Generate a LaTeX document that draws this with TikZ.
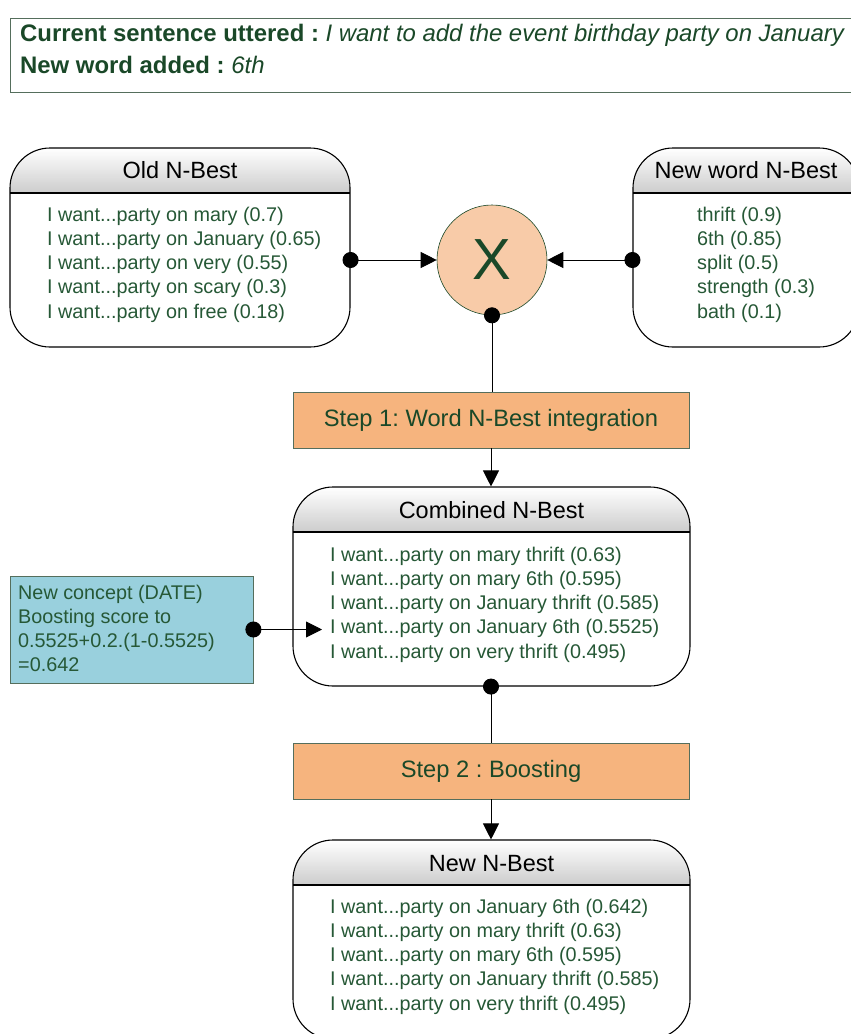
\documentclass[tikz,border=0pt]{standalone}
\usepackage{fontspec}
\setmainfont{Liberation Sans}
\usetikzlibrary{arrows.meta}
\frenchspacing
\newcommand\mydots{...}
\definecolor{tgreen}{RGB}{38,88,54}
\definecolor{dgreen}{RGB}{26,72,40}
\definecolor{stepfill}{RGB}{246,180,126}
\definecolor{peach}{RGB}{248,203,168}
\definecolor{cyanfill}{RGB}{153,208,221}
\definecolor{bordergreen}{RGB}{85,110,92}
\definecolor{hdrgray}{RGB}{205,205,205}
\tikzset{
  nbest/.style={draw=black, line width=1.1pt, rounded corners=40pt, inner sep=0pt,
    minimum height=199pt,
    path picture={
      \foreach \k in {0,...,44}{
        \pgfmathtruncatemacro\pc{100*\k/44}
        \pgfmathsetmacro\kk{\k+1.3}
        \fill[sharp corners, hdrgray!\pc!white] ([yshift=-\k pt]path picture bounding box.north west)
          rectangle ([yshift=-\kk pt]path picture bounding box.north east);
      }
      \draw[sharp corners, line width=1.1pt] ([yshift=-45pt]path picture bounding box.north west) -- ([yshift=-45pt]path picture bounding box.north east);
    }},
  boxtitle/.style={font=\fontsize{23.5}{28}\selectfont, text=black, anchor=base, inner sep=0pt},
  item/.style={font=\fontsize{19.8}{24}\selectfont, text=tgreen, anchor=base west, inner sep=0pt},
  stepbox/.style={draw=bordergreen, fill=stepfill, line width=0.8pt, minimum width=396pt,
    minimum height=56pt, inner sep=0pt, font=\fontsize{23.7}{28}\selectfont, text=dgreen},
  conn/.style={line width=0.9pt, draw=black},
  dotstart/.style={shorten <=-8pt},
}
\begin{document}
\begin{tikzpicture}[x=1pt, y=-1pt,
  >={Triangle[length=16pt,width=16pt]}]
\useasboundingbox (0,0) rectangle (851,1034);

% top info box
\node[draw=bordergreen, line width=0.8pt, anchor=north west, minimum width=900pt,
  minimum height=74pt, inner sep=0pt] (info) at (10,18) {};
\node[anchor=base west, inner sep=0pt, text=dgreen, font=\fontsize{23.9}{28}\selectfont]
  (info1) at (20,41) {\textbf{Current sentence uttered :} \textit{I want to add the event birthday party on January}};
\node[anchor=base west, inner sep=0pt, text=dgreen, font=\fontsize{23.9}{28}\selectfont]
  (info2) at (20,73) {\textbf{New word added :} \textit{6th}};

% Old N-Best
\node[nbest, minimum width=340pt] (old) at (180,247.5) {};
\node[boxtitle] (oldt) at (180,178) {Old N-Best};
\foreach \t [count=\i] in {{I want\mydots{}party on mary (0.7)}, {I want\mydots{}party on January (0.65)},
  {I want\mydots{}party on very (0.55)}, {I want\mydots{}party on scary (0.3)}, {I want\mydots{}party on free (0.18)}}
  \node[item] (old-\i) at (47,{221+24.3*(\i-1)}) {\t};

% New word N-Best
\node[nbest, minimum width=226pt] (neww) at (746,247.5) {};
\node[boxtitle] (newwt) at (746,178) {New word N-Best};
\foreach \t [count=\i] in {thrift (0.9), 6th (0.85), split (0.5), strength (0.3), bath (0.1)}
  \node[item] (neww-\i) at (697,{221+24.3*(\i-1)}) {\t};

% multiplication circle
\node[circle, draw=dgreen, line width=0.6pt, fill=peach, minimum size=110pt, inner sep=0pt,
  font=\fontsize{58}{60}\selectfont, text=dgreen] (X) at (492,260) {X};

% step 1
\node[stepbox] (step1) at (491,420) {Step 1: Word N-Best integration};

% Combined N-Best
\node[nbest, minimum width=397pt] (comb) at (491.5,586.5) {};
\node[boxtitle] (combt) at (491.5,518) {Combined N-Best};
\foreach \t [count=\i] in {{I want\mydots{}party on mary thrift (0.63)}, {I want\mydots{}party on mary 6th (0.595)},
  {I want\mydots{}party on January thrift (0.585)}, {I want\mydots{}party on January 6th (0.5525)},
  {I want\mydots{}party on very thrift (0.495)}}
  \node[item] (comb-\i) at (330,{561+24.3*(\i-1)}) {\t};

% concept box
\node[draw=bordergreen, line width=0.8pt, fill=cyanfill, minimum width=243pt, minimum height=107pt,
  inner sep=0pt] (concept) at (131.5,629.5) {};
\foreach \t [count=\i] in {New concept (DATE), Boosting score to, 0.5525+0.2.(1-0.5525), =0.642}
  \node[item] (concept-\i) at (18,{599+24*(\i-1)}) {\t};
\coordinate (boostpt) at (322,629.5);

% step 2
\node[stepbox] (step2) at (491,771) {Step 2 : Boosting};

% New N-Best
\node[nbest, minimum width=397pt] (newb) at (491.5,939.5) {};
\node[boxtitle] (newbt) at (491.5,871) {New N-Best};
\foreach \t [count=\i] in {{I want\mydots{}party on January 6th (0.642)}, {I want\mydots{}party on mary thrift (0.63)},
  {I want\mydots{}party on mary 6th (0.595)}, {I want\mydots{}party on January thrift (0.585)},
  {I want\mydots{}party on very thrift (0.495)}}
  \node[item] (newb-\i) at (330,{913+24.3*(\i-1)}) {\t};

% connectors
\draw[conn, {Circle[length=16pt]}->, dotstart] (old.east |- X.center) -- (X.west);
\draw[conn, {Circle[length=16pt]}->, dotstart] (neww.west |- X.center) -- (X.east);
\draw[conn, {Circle[length=16pt]}-, dotstart] (X.south) -- (X.south |- step1.north);
\draw[conn, ->] (step1.south) -- (step1.south |- comb.north);
\draw[conn, {Circle[length=16pt]}->, dotstart] (concept.east) -- (boostpt);
\draw[conn, {Circle[length=16pt]}-, dotstart] (comb.south -| step2.north) -- (step2.north);
\draw[conn, ->] (step2.south) -- (step2.south |- newb.north);
\end{tikzpicture}
\end{document}
